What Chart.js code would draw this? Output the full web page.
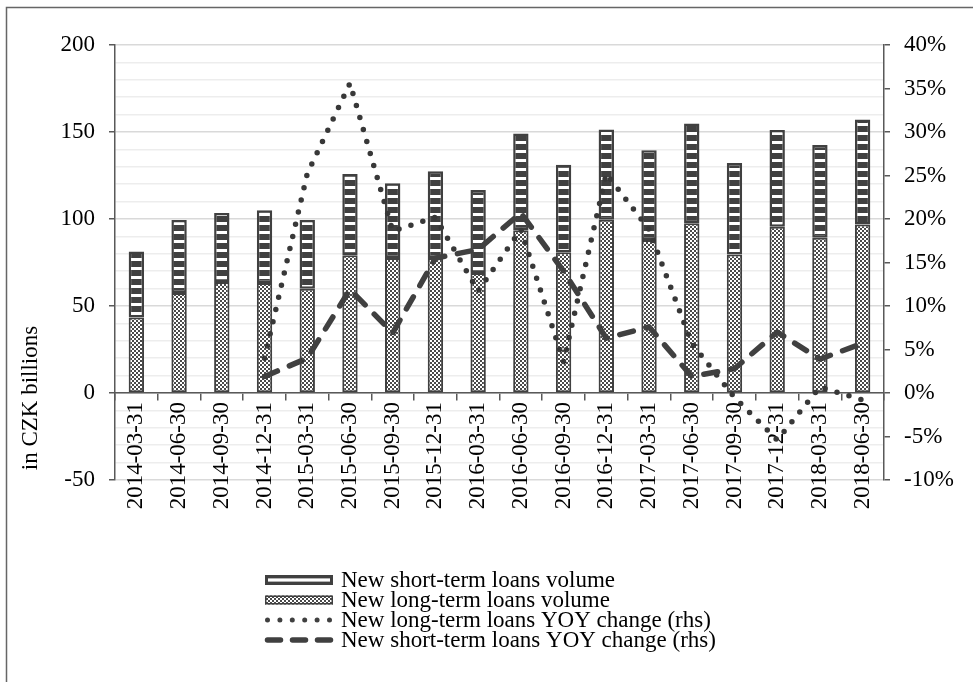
<!DOCTYPE html>
<html>
<head>
<meta charset="utf-8">
<script src="https://cdn.jsdelivr.net/npm/chart.js@4.4.1/dist/chart.umd.min.js"></script>
<style>
  html, body { margin: 0; padding: 0; background: #fff; }
  canvas { display: block; }
</style>
</head>
<body>
<canvas id="chart" width="973" height="682"></canvas>
<script>
const quarters = [
  "2014-03-31", "2014-06-30", "2014-09-30", "2014-12-31",
  "2015-03-31", "2015-06-30", "2015-09-30", "2015-12-31",
  "2016-03-31", "2016-06-30", "2016-09-30", "2016-12-31",
  "2017-03-31", "2017-06-30", "2017-09-30", "2017-12-31",
  "2018-03-31", "2018-06-30"
];

const shortTermVolume = [37.9, 42.0, 39.7, 41.8, 39.5, 46.6, 43.0, 49.9, 47.6, 55.5, 50.3, 51.8, 51.6, 57.4, 52.6, 55.6, 53.4, 60.3];
const longTermVolume = [43.4, 57.4, 63.8, 63.2, 59.9, 79.2, 77.6, 77.6, 69.0, 93.6, 80.9, 99.6, 87.9, 97.5, 79.6, 95.6, 89.2, 96.9];
const longTermYoy = [null, null, null, 4.0, 25.2, 35.6, 18.6, 20.2, 11.7, 18.8, 3.6, 25.2, 18.8, 5.7, -0.5, -5.4, 0.7, -0.8];
const shortTermYoy = [null, null, null, 1.9, 4.0, 11.9, 6.9, 15.5, 16.5, 20.7, 14.0, 6.3, 7.6, 1.9, 2.8, 7.0, 3.9, 5.7];

const seriesNames = [
  "New short-term loans volume",
  "New long-term loans volume",
  "New long-term loans YOY change (rhs)",
  "New short-term loans YOY change (rhs)"
];
const volumeRange = [-50, 200];
const yoyRange = [-10, 40];
const axisTitle = "in CZK billions";

const dark = "#404040";
const axisColor = "#595959";
const fontFamily = "'Liberation Serif', 'Times New Roman', serif";

function makeStripes(ctx) {
  const c = document.createElement("canvas");
  c.width = 4; c.height = 9;
  const g = c.getContext("2d");
  g.fillStyle = dark; g.fillRect(0, 0, 4, 9);
  g.fillStyle = "#fff"; g.fillRect(0, 6, 4, 3);
  return ctx.createPattern(c, "repeat");
}

function makeChecker(ctx) {
  const c = document.createElement("canvas");
  c.width = 4; c.height = 4;
  const g = c.getContext("2d");
  g.fillStyle = "#fff"; g.fillRect(0, 0, 4, 4);
  g.fillStyle = "#4a4a4a";
  g.fillRect(0, 0, 2, 2);
  g.fillRect(2, 2, 2, 2);
  return ctx.createPattern(c, "repeat");
}

const canvas = document.getElementById("chart");
const ctx = canvas.getContext("2d");
const stripes = makeStripes(ctx);
const checker = makeChecker(ctx);

Chart.defaults.font.family = fontFamily;
Chart.defaults.font.size = 23;
Chart.defaults.color = "#000";

// frame, rotated axis title and the legend (one entry per row)
const extras = {
  id: "extras",
  afterDraw(chart) {
    const c = chart.ctx;
    c.save();

    c.strokeStyle = "#666";
    c.lineWidth = 1.5;
    c.beginPath();
    c.moveTo(6.5, 682);
    c.lineTo(6.5, 7.5);
    c.lineTo(973, 7.5);
    c.stroke();

    c.fillStyle = "#000";
    c.font = "23px " + fontFamily;
    c.translate(31, 398);
    c.rotate(-Math.PI / 2);
    c.textAlign = "center";
    c.textBaseline = "middle";
    c.fillText(axisTitle, 0, 0);
    c.restore();

    c.save();
    const x0 = 265, x1 = 333, tx = 341;
    c.font = "23px " + fontFamily;
    c.textBaseline = "middle";
    seriesNames.forEach((name, i) => {
      const cy = 580 + i * 20;
      if (i === 0) {
        c.fillStyle = dark;
        c.fillRect(x0, cy - 5, x1 - x0, 10);
        c.fillStyle = "#fff";
        c.fillRect(x0 + 3, cy - 1.6, x1 - x0 - 6, 3.2);
      } else if (i === 1) {
        c.fillStyle = checker;
        c.fillRect(x0, cy - 4.5, x1 - x0, 9);
        c.strokeStyle = dark;
        c.lineWidth = 1.5;
        c.strokeRect(x0 + 0.75, cy - 3.75, x1 - x0 - 1.5, 7.5);
      } else {
        c.strokeStyle = dark;
        c.lineCap = "round";
        c.lineWidth = i === 2 ? 5 : 5.5;
        c.setLineDash(i === 2 ? [0, 12.4] : [13, 12]);
        c.beginPath();
        c.moveTo(x0 + 2.5, cy);
        c.lineTo(x1 - 1, cy);
        c.stroke();
        c.setLineDash([]);
      }
      c.fillStyle = "#000";
      c.fillText(name, tx, cy + 1);
    });
    c.restore();
  }
};

new Chart(canvas, {
  data: {
    labels: quarters,
    datasets: [
      {
        type: "bar",
        label: seriesNames[1],
        data: longTermVolume,
        backgroundColor: checker,
        borderColor: dark,
        borderWidth: 2,
        borderSkipped: false,
        barPercentage: 0.36,
        categoryPercentage: 1,
        yAxisID: "y",
        order: 2
      },
      {
        type: "bar",
        label: seriesNames[0],
        data: shortTermVolume,
        backgroundColor: stripes,
        borderColor: dark,
        borderWidth: 2.5,
        borderSkipped: false,
        barPercentage: 0.36,
        categoryPercentage: 1,
        yAxisID: "y",
        order: 2
      },
      {
        type: "line",
        label: seriesNames[2],
        data: longTermYoy,
        yAxisID: "y1",
        borderColor: "#383838",
        borderWidth: 5.5,
        borderDash: [0, 12.5],
        borderCapStyle: "round",
        pointRadius: 0,
        fill: false,
        order: 1
      },
      {
        type: "line",
        label: seriesNames[3],
        data: shortTermYoy,
        yAxisID: "y1",
        borderColor: dark,
        borderWidth: 5.5,
        borderDash: [14, 13],
        borderCapStyle: "round",
        borderJoinStyle: "round",
        pointRadius: 0,
        fill: false,
        order: 0
      }
    ]
  },
  options: {
    responsive: false,
    animation: false,
    devicePixelRatio: 1,
    layout: { padding: { top: 45, bottom: 202, left: 0, right: 0 } },
    plugins: {
      legend: { display: false },
      tooltip: { enabled: false }
    },
    scales: {
      x: {
        stacked: true,
        position: { y: 0 },
        offset: true,
        grid: { drawOnChartArea: false, offset: true, tickLength: 7, color: axisColor, lineWidth: 1.5 },
        border: { color: axisColor, width: 1.5 },
        ticks: { minRotation: 90, maxRotation: 90, autoSkip: false, padding: 2 }
      },
      y: {
        stacked: true,
        position: "left",
        min: volumeRange[0],
        max: volumeRange[1],
        ticks: {
          stepSize: 10,
          autoSkip: false,
          padding: 14,
          callback: v => (Math.round(v) % 50 === 0 ? Math.round(v) : "")
        },
        grid: {
          color: c => (Math.round(c.tick.value) % 50 === 0 ? "#d9d9d9" : "#ededed"),
          tickColor: c => (Math.round(c.tick.value) % 50 === 0 ? axisColor : "rgba(0,0,0,0)"),
          tickLength: 6,
          lineWidth: 1.5
        },
        border: { color: axisColor, width: 1.5 },
        afterFit: s => { s.width = 115; }
      },
      y1: {
        position: "right",
        min: yoyRange[0],
        max: yoyRange[1],
        ticks: { stepSize: 5, autoSkip: false, padding: 14, callback: v => v + "%" },
        grid: { drawOnChartArea: false, tickLength: 6, color: axisColor, lineWidth: 1.5 },
        border: { color: axisColor, width: 1.5 },
        afterFit: s => { s.width = 89; }
      }
    }
  },
  plugins: [extras]
});
</script>
</body>
</html>
